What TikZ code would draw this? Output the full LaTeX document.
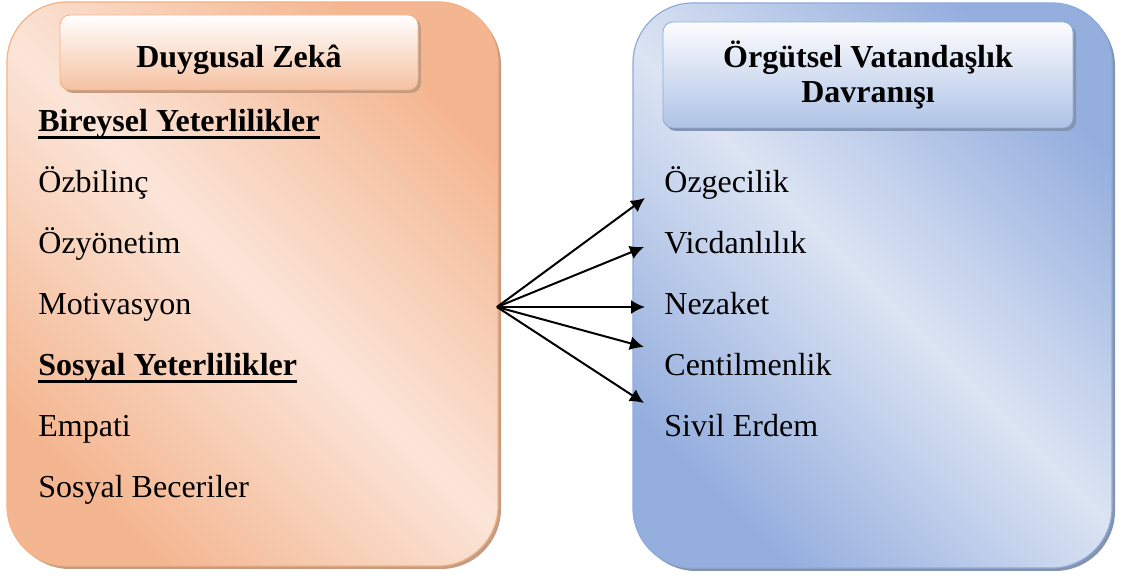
\documentclass[tikz,border=0pt]{standalone}
\usepackage{fontspec}
\setmainfont{Liberation Serif}
\usetikzlibrary{arrows.meta,shadows}

\definecolor{peachdark}{HTML}{F4B690}
\definecolor{peachlight}{HTML}{FBE5D8}
\definecolor{peachline}{HTML}{F4B183}
\definecolor{peachshadow}{HTML}{C49C84}
\definecolor{bluedark}{HTML}{94AEDE}
\definecolor{bluelight}{HTML}{DCE4F3}
\definecolor{blueline}{HTML}{8FAADC}
\definecolor{blueshadow}{HTML}{8494AE}

\begin{document}
\begin{tikzpicture}[x=0.5pt, y=-0.5pt,
    bigbox/.style={rectangle, rounded corners=30pt, line width=0.6pt, inner sep=0pt},
    headbox/.style={rectangle, rounded corners=5pt, line width=0.4pt, inner sep=0pt,
        align=center, font=\fontsize{16}{17.5}\selectfont\bfseries},
    item/.style={anchor=base west, inner sep=0pt, font=\fontsize{16}{18}\selectfont},
    subhead/.style={item, font=\fontsize{16}{18}\selectfont\bfseries},
    link/.style={line width=1pt, -{Latex[length=7pt, width=7pt]}}]
    \useasboundingbox (0,0) rectangle (1130,581);

    % Left panel
    \node[bigbox, draw=peachline, minimum width=245.5pt, minimum height=282pt,
        top color=peachdark, bottom color=peachdark, middle color=peachlight, shading angle=-45,
        drop shadow={shadow xshift=1.5pt, shadow yshift=-1.5pt, fill=peachshadow, opacity=1}]
        (EQ) at (252.5,284) {};
    \node[headbox, draw=peachline, minimum width=179pt, minimum height=37.5pt,
        top color=white, bottom color=peachdark!85,
        drop shadow={shadow xshift=1.5pt, shadow yshift=-1.5pt, fill=peachshadow, opacity=1}]
        (EQHEAD) at (239,52.5) {};
    \node[anchor=base, inner sep=0pt, font=\fontsize{16}{17.5}\selectfont\bfseries]
        (EQTITLE) at (239,68) {Duygusal Zekâ};

    % Right panel
    \node[bigbox, draw=blueline, minimum width=239.5pt, minimum height=282.5pt,
        top color=bluedark, bottom color=bluedark, middle color=bluelight, shading angle=-45,
        drop shadow={shadow xshift=1.5pt, shadow yshift=-1.5pt, fill=blueshadow, opacity=1}]
        (OCB) at (872.5,285.5) {};
    \node[headbox, draw=blueline, minimum width=205pt, minimum height=53pt,
        top color=white!90!bluelight, bottom color=bluedark!75,
        drop shadow={shadow xshift=1.5pt, shadow yshift=-1.5pt, fill=blueshadow, opacity=1}]
        (OCBHEAD) at (868,75) {Örgütsel Vatandaşlık\\Davranışı};

    % Left items
    \node[subhead] (BIR) at (38,132) {Bireysel Yeterlilikler};
    \node[item] (OZB) at (38,193) {Özbilinç};
    \node[item] (OZY) at (38,254) {Özyönetim};
    \node[item] (MOT) at (38,315) {Motivasyon};
    \node[subhead] (SOS) at (38,376) {Sosyal Yeterlilikler};
    \node[item] (EMP) at (38,437) {Empati};
    \node[item] (BEC) at (38,498) {Sosyal Beceriler};
    \foreach \h in {BIR,SOS} {
        \draw[line width=1.5pt] ([yshift=-3pt]\h.base west) -- ([yshift=-3pt]\h.base east);
    }

    % Right items
    \foreach \n/\t [count=\i] in {OZG/Özgecilik, VIC/Vicdanlılık, NEZ/Nezaket, CEN/Centilmenlik, SIV/Sivil Erdem} {
        \node[item] (\n) at (664,132+\i*61) {\t};
    }

    % Arrows
    \coordinate (HUB) at (497,307);
    \coordinate (TIP1) at (645,198);
    \coordinate (TIP2) at (644,247);
    \coordinate (TIP3) at (645,307);
    \coordinate (TIP4) at (644,347);
    \coordinate (TIP5) at (644,403);
    \foreach \i in {1,2,...,5} {
        \draw[link] (HUB) -- (TIP\i);
    }
\end{tikzpicture}
\end{document}
